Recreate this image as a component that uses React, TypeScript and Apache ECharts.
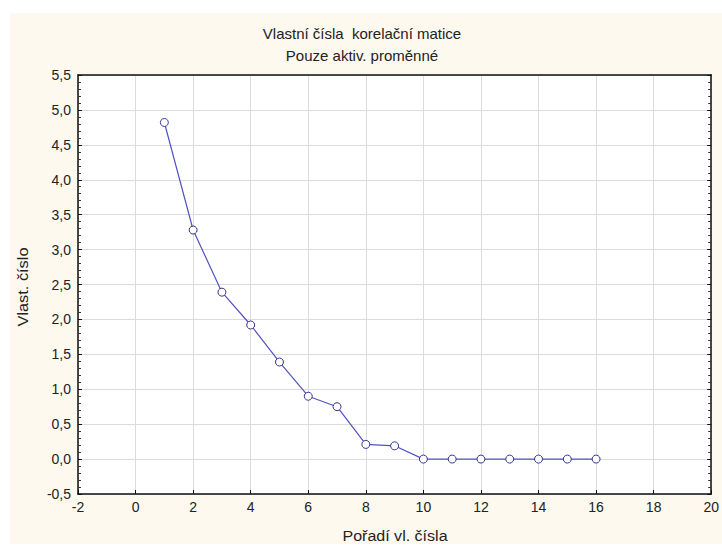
import React, { useEffect, useRef } from "react";
import * as echarts from "echarts";

const titleMain = "Vlastní čísla  korelační matice";
const titleSub = "Pouze aktiv. proměnné";
const xName = "Pořadí vl. čísla";
const yName = "Vlast. číslo";
const order = [1, 2, 3, 4, 5, 6, 7, 8, 9, 10, 11, 12, 13, 14, 15, 16];
const eigenvalues = [4.82, 3.28, 2.39, 1.92, 1.39, 0.9, 0.75, 0.21, 0.19, 0.0, 0.0, 0.0, 0.0, 0.0, 0.0, 0.0];

const FONT = "Liberation Sans, Arial, sans-serif";

export default function App() {
  const ref = useRef<HTMLDivElement>(null);
  useEffect(() => {
    if (!ref.current) return;
    const chart = echarts.init(ref.current, null, { renderer: "svg" });
    const fmt = (v: number) => v.toFixed(1).replace(".", ",");
    chart.setOption({
      animation: false,
      backgroundColor: "#ffffff",
      textStyle: { fontFamily: FONT },
      graphic: [
        {
          type: "rect",
          z: -10,
          silent: true,
          shape: { x: 10, y: 13, width: 712, height: 531 },
          style: { fill: "#fdf9ef" },
        },
        {
          type: "text",
          x: 362,
          y: 33,
          style: { text: titleMain, font: "15px " + FONT, fill: "#222", textAlign: "center", textVerticalAlign: "middle" },
        },
        {
          type: "text",
          x: 362,
          y: 55,
          style: { text: titleSub, font: "15px " + FONT, fill: "#222", textAlign: "center", textVerticalAlign: "middle" },
        },
        {
          type: "text",
          x: 395,
          y: 536,
          scaleX: 1.07,
          style: { text: xName, font: "15px " + FONT, fill: "#222", textAlign: "center", textVerticalAlign: "middle" },
        },
        {
          type: "text",
          x: 23,
          y: 287,
          rotation: Math.PI / 2,
          scaleX: 1.09,
          style: { text: yName, font: "15px " + FONT, fill: "#222", textAlign: "center", textVerticalAlign: "middle" },
        },
      ],
      grid: { left: 78, top: 75, right: 8, bottom: 51, show: true, backgroundColor: "#ffffff", borderWidth: 0 },
      xAxis: [
        {
          type: "value",
          min: -2,
          max: 20,
          interval: 2,
          axisLine: { show: true, onZero: false, lineStyle: { color: "#111", width: 1.5 } },
          axisTick: { show: true, inside: true, length: 4, lineStyle: { color: "#111" } },
          axisLabel: { fontSize: 14, color: "#222", margin: 6, fontFamily: FONT },
          splitLine: { show: true, lineStyle: { color: "#dcdcdc", width: 1 } },
        },
        {
          type: "value",
          position: "top",
          min: -2,
          max: 20,
          interval: 2,
          axisLine: { show: true, onZero: false, lineStyle: { color: "#111", width: 1.5 } },
          axisTick: { show: false },
          axisLabel: { show: false },
          splitLine: { show: false },
        },
      ],
      yAxis: [
        {
          type: "value",
          min: -0.5,
          max: 5.5,
          interval: 0.5,
          axisLine: { show: true, onZero: false, lineStyle: { color: "#111", width: 1.5 } },
          axisTick: { show: true, inside: true, length: 4, lineStyle: { color: "#111" } },
          minorTick: { show: true, splitNumber: 5, length: 3, lineStyle: { color: "#333" } },
          axisLabel: { fontSize: 14, color: "#222", margin: 7, formatter: fmt, fontFamily: FONT },
          splitLine: { show: true, lineStyle: { color: "#dcdcdc", width: 1 } },
        },
        {
          type: "value",
          position: "right",
          min: -0.5,
          max: 5.5,
          interval: 0.5,
          axisLine: { show: true, onZero: false, lineStyle: { color: "#111", width: 1.5 } },
          axisTick: { show: true, inside: true, length: 4, lineStyle: { color: "#111" } },
          minorTick: { show: true, splitNumber: 5, length: 3, lineStyle: { color: "#333" } },
          axisLabel: { show: false },
          splitLine: { show: false },
        },
      ],
      series: [
        {
          type: "line",
          data: order.map((o, i) => [o, eigenvalues[i]]),
          symbol: "circle",
          symbolSize: 8,
          lineStyle: { color: "#5252c4", width: 1.2 },
          itemStyle: { color: "#ffffff", borderColor: "#35358f", borderWidth: 1 },
        },
      ],
    });
    return () => chart.dispose();
  }, []);
  return (
    <div
      ref={ref}
      style={{ position: "fixed", left: 0, top: 0, width: 722, height: 545 }}
    />
  );
}
